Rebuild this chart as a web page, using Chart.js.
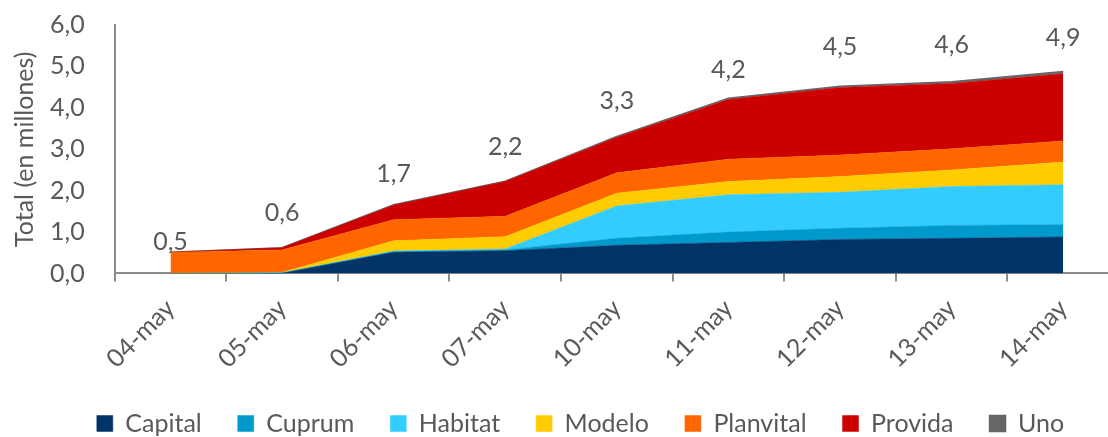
<!DOCTYPE html>
<html>
<head>
<meta charset="utf-8">
<script src="https://cdn.jsdelivr.net/npm/chart.js@4"></script>
<style>
  html, body { margin: 0; padding: 0; background: #fff; overflow: hidden; }
  #wrap { width: 1164px; height: 437px; }
</style>
</head>
<body>
<div id="wrap"><canvas id="chart1"></canvas></div>
<script>
// categories
const days = ["04-may", "05-may", "06-may", "07-may", "10-may", "11-may", "12-may", "13-may", "14-may"];

// series values (millions)
const capital   = [0.00, 0.005, 0.51, 0.55, 0.68, 0.75, 0.82, 0.85, 0.88];
const cuprum    = [0.00, 0.005, 0.02, 0.02, 0.17, 0.25, 0.27, 0.31, 0.30];
const habitat   = [0.00, 0.01, 0.01, 0.02, 0.78, 0.90, 0.87, 0.94, 0.96];
const modelo    = [0.00, 0.005, 0.25, 0.30, 0.31, 0.32, 0.38, 0.40, 0.55];
const planvital = [0.51, 0.545, 0.51, 0.49, 0.49, 0.54, 0.52, 0.51, 0.51];
const provida   = [0.005, 0.05, 0.35, 0.84, 0.86, 1.44, 1.63, 1.58, 1.62];
const uno       = [0.00, 0.003, 0.01, 0.01, 0.02, 0.03, 0.03, 0.04, 0.06];

const yTicks = [0, 1, 2, 3, 4, 5, 6];

const series = [
  { label: "Capital", data: capital, color: "#003366" },
  { label: "Cuprum", data: cuprum, color: "#0099cc" },
  { label: "Habitat", data: habitat, color: "#33ccff" },
  { label: "Modelo", data: modelo, color: "#ffcc00" },
  { label: "Planvital", data: planvital, color: "#ff6600" },
  { label: "Provida", data: provida, color: "#cc0000" },
  { label: "Uno", data: uno, color: "#666666" },
];

const textColor = "#595959";
const axisColor = "#8c8c8c";
const fontFamily = "Lato, 'Open Sans', sans-serif";
const fontSize = 25;

const fmt = (v, d) => v.toFixed(d).replace(".", ",");

// total labels sit above each stack (pixel lift, set by hand like the original)
const totalLabels = {
  id: "totalLabels",
  afterDatasetsDraw(chart, args, opts) {
    const { ctx, scales } = chart;
    ctx.save();
    ctx.font = `${fontSize}px ${fontFamily}`;
    ctx.fillStyle = textColor;
    ctx.textAlign = "center";
    ctx.textBaseline = "middle";
    days.forEach((d, i) => {
      const total = series.reduce((s, ser) => s + ser.data[i], 0);
      const x = scales.x.getPixelForValue(i);
      const y = scales.y.getPixelForValue(total) - opts.lift[i];
      ctx.fillText(fmt(total, 1), x, y);
    });
    ctx.restore();
  },
};

// legend keeps wide gaps between items but a short box height,
// and sits centred on the whole canvas rather than the padded area
const legendFix = {
  id: "legendFix",
  beforeInit(chart) {
    const fit = chart.legend.fit;
    chart.legend.fit = function () {
      fit.call(this);
      this.height = 62;
    };
  },
  afterLayout(chart) {
    chart.legend.left += 16;
    chart.legend.right += 16;
  },
};

const datasets = series.map((s, i) => ({
  label: s.label,
  data: s.data,
  backgroundColor: s.color,
  borderColor: s.color,
  borderWidth: s.label === "Uno" ? 1.5 : 0.5,
  fill: i === 0 ? "origin" : "-1",
  pointRadius: 0,
  pointHoverRadius: 0,
  tension: 0,
}));

new Chart(document.getElementById("chart1").getContext("2d"), {
  type: "line",
  data: { labels: days, datasets },
  plugins: [totalLabels, legendFix],
  options: {
    responsive: true,
    maintainAspectRatio: false,
    animation: false,
    layout: { padding: { top: 0, right: 45, left: 10, bottom: 0 } },
    plugins: {
      legend: {
        position: "bottom",
        labels: {
          boxWidth: 16,
          boxHeight: 16,
          padding: 36,
          color: textColor,
          font: { size: fontSize, family: fontFamily },
        },
      },
      tooltip: { enabled: false },
      totalLabels: { lift: [10, 35, 31, 34, 35, 28, 39, 37, 33] },
    },
    scales: {
      x: {
        offset: true,
        afterFit: (scale) => {
          scale.height -= 11;
        },
        grid: {
          offset: true,
          drawOnChartArea: false,
          drawTicks: true,
          tickLength: 8,
          color: axisColor,
          lineWidth: 2,
        },
        border: { display: true, color: axisColor, width: 2 },
        ticks: {
          minRotation: 45,
          maxRotation: 45,
          color: textColor,
          font: { size: fontSize, family: fontFamily },
          padding: 12,
        },
      },
      y: {
        stacked: true,
        min: 0,
        max: 6,
        afterBuildTicks: (axis) => {
          axis.ticks = yTicks.map((v) => ({ value: v }));
        },
        // invisible tick marks just hold the labels away from the axis line
        grid: {
          display: true,
          drawOnChartArea: false,
          drawTicks: true,
          tickLength: 20,
          tickColor: "rgba(0,0,0,0)",
        },
        border: { display: true, color: axisColor, width: 2 },
        ticks: {
          color: textColor,
          font: { size: fontSize, family: fontFamily },
          padding: 10,
          callback: (v) => fmt(v, 1),
        },
        title: {
          display: true,
          text: "Total (en millones)",
          color: textColor,
          font: { size: fontSize, family: fontFamily },
          padding: 0,
        },
      },
    },
  },
});
</script>
</body>
</html>
